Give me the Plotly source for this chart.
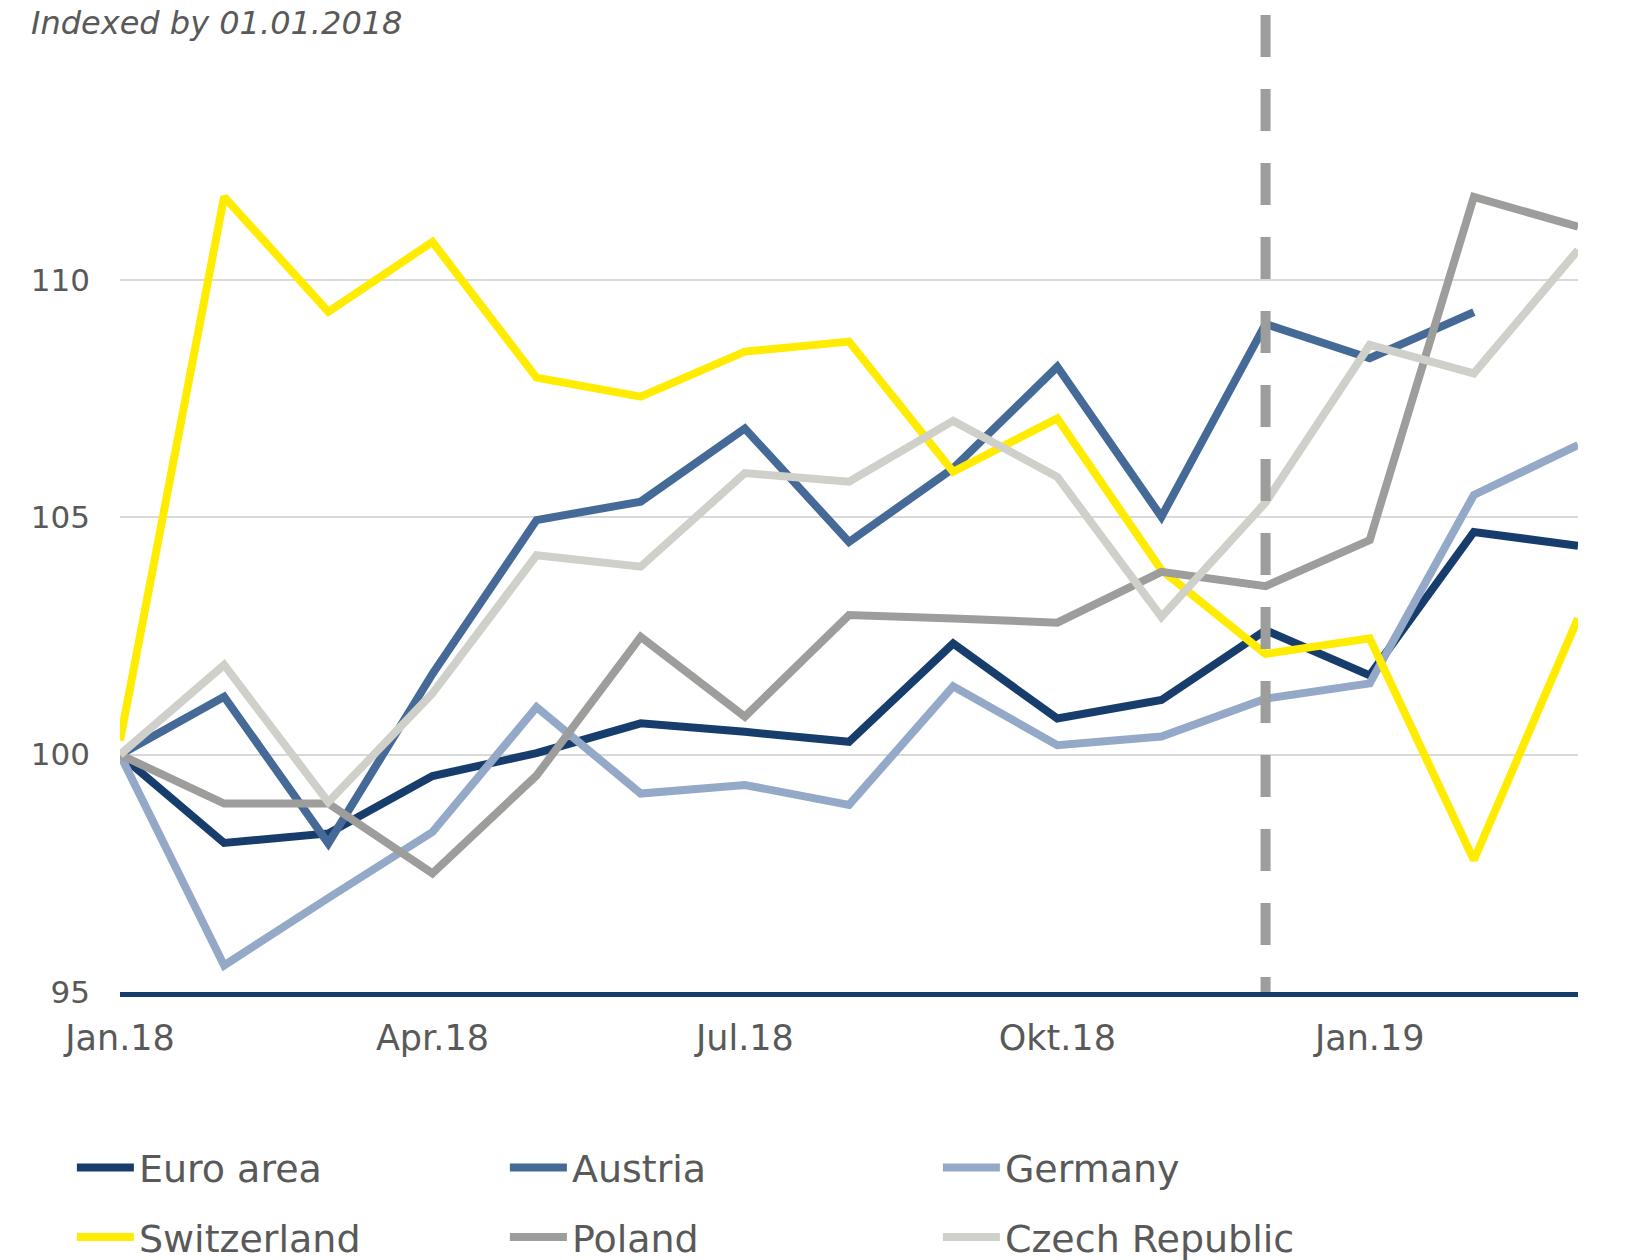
import plotly.graph_objects as go

months = ["Jan.18", "Feb.18", "Mär.18", "Apr.18", "Mai.18", "Jun.18", "Jul.18",
          "Aug.18", "Sep.18", "Okt.18", "Nov.18", "Dez.18", "Jan.19", "Feb.19", "Mär.19"]
tick_months = ["Jan.18", "Apr.18", "Jul.18", "Okt.18", "Jan.19"]
y_ticks = [95, 100, 105, 110]
forecast_start = "Dez.18"

euro_area = [100, 98.14, 98.34, 99.55, 100.03, 100.66, 100.48, 100.27, 102.34, 100.76, 101.15, 102.62, 101.67, 104.69, 104.40]
austria = [100, 101.22, 98.13, 101.70, 104.94, 105.33, 106.87, 104.48, 106.03, 108.17, 105.01, 109.07, 108.35, 109.32, None]
germany = [100, 95.56, 96.98, 98.37, 101.00, 99.18, 99.36, 98.94, 101.44, 100.20, 100.38, 101.18, 101.50, 105.47, 106.52]
switzerland = [100.3, 111.75, 109.33, 110.80, 107.94, 107.54, 108.49, 108.70, 105.96, 107.08, 103.89, 102.12, 102.45, 97.78, 102.87]
poland = [100, 98.97, 98.97, 97.50, 99.56, 102.48, 100.80, 102.94, 102.87, 102.78, 103.85, 103.55, 104.52, 111.75, 111.12]
czech = [100, 101.89, 99.00, 101.29, 104.20, 103.96, 105.93, 105.75, 107.03, 105.85, 102.90, 105.31, 108.63, 108.03, 110.63]

series = [
    ("Euro area", euro_area, "#173d6d", "legend"),
    ("Austria", austria, "#456a98", "legend"),
    ("Germany", germany, "#93a9c7", "legend"),
    ("Switzerland", switzerland, "#ffec00", "legend2"),
    ("Poland", poland, "#9d9d9c", "legend2"),
    ("Czech Republic", czech, "#cfd0ca", "legend2"),
]

FONT = "DejaVu Sans"
TXT = "#595959"

fig = go.Figure()
for name, vals, color, leg in series:
    fig.add_trace(go.Scatter(
        x=months, y=vals, name=name, mode="lines",
        line=dict(color=color, width=8),
        legend=leg, connectgaps=False,
    ))

xi = months.index(forecast_start)
fig.add_shape(type="line", xref="x", yref="paper", x0=xi, x1=xi, y0=1, y1=0,
              line=dict(color="#9d9d9c", width=10, dash="42px,32px"), layer="above")

legend_common = dict(
    orientation="h", xanchor="left", yanchor="middle",
    font=dict(family=FONT, size=38, color=TXT),
    entrywidth=361, entrywidthmode="pixels", itemwidth=57,
    bgcolor="rgba(0,0,0,0)", borderwidth=0, traceorder="normal",
)

fig.update_layout(
    width=1633, height=1260,
    margin=dict(l=120, r=55, t=15, b=268, autoexpand=False),
    paper_bgcolor="white", plot_bgcolor="white",
    showlegend=True,
    title=dict(text="Indexed by 01.01.2018", xref="container", yref="container",
               x=31 / 1633, y=1 - 23 / 1260, xanchor="left", yanchor="middle",
               font=dict(family=FONT, size=32, color=TXT, style="italic")),
    legend=dict(x=-0.033, y=-0.180, **legend_common),
    legend2=dict(x=-0.033, y=-0.251, **legend_common),
    xaxis=dict(
        type="category", categoryorder="array", categoryarray=months,
        range=[0, len(months) - 1],
        tickvals=tick_months, ticktext=tick_months,
        showgrid=False, zeroline=False, ticks="",
        showline=True, linecolor="#173d6d", linewidth=5,
        tickfont=dict(family=FONT, size=35, color=TXT),
        ticklabelstandoff=11,
    ),
    yaxis=dict(
        range=[95, 115.58], tickvals=y_ticks, ticktext=[str(v) for v in y_ticks],
        showgrid=True, gridcolor="#d9d9d9", gridwidth=1.5,
        zeroline=False, showline=False, ticks="",
        tickfont=dict(family=FONT, size=31, color=TXT),
        ticklabelstandoff=29,
    ),
)

fig.write_html(
    "out.html",
    config={"displayModeBar": False},
    post_script="document.body.style.margin='0';document.body.style.overflow='hidden';",
)
